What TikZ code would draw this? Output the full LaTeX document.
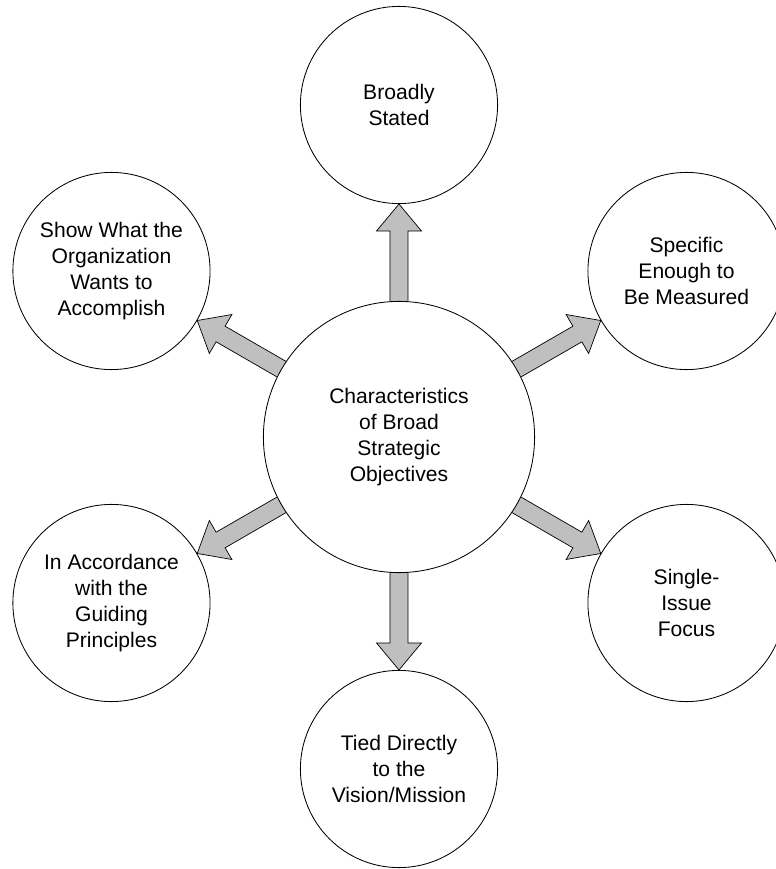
\documentclass[tikz,border=0pt]{standalone}
\usepackage{fontspec}
\setmainfont{Liberation Sans}
\usetikzlibrary{calc,backgrounds}

\tikzset{
  topic/.style={circle,draw,fill=white,line width=0.6pt,minimum size=4.93cm,
    inner sep=0pt,align=center,font=\fontsize{15}{18.5}\selectfont},
  hub/.style={topic,minimum size=6.78cm},
  fatarrow/.style={draw,fill=black!25,line width=0.5pt,line join=miter}
}

% block arrow from the centre of #1 to the point #2
\newcommand{\blockarrow}[2]{%
  \coordinate (h) at ($(#2)!0.675cm!(#1)$);
  \draw[fatarrow] ($(#1)!0.225cm!90:(#2)$) -- ($(h)!0.225cm!-90:(#1)$)
    -- ($(h)!0.5625cm!-90:(#1)$) -- (#2) -- ($(h)!0.5625cm!90:(#1)$)
    -- ($(h)!0.225cm!90:(#1)$) -- ($(#1)!0.225cm!-90:(#2)$) -- cycle;
}

\begin{document}
\begin{tikzpicture}
\useasboundingbox (-9.975,-10.8) rectangle (9.425,10.925);

\node[hub] (hub) at (0,0) {Characteristics\\of Broad\\Strategic\\Objectives};
\node[topic] (stated) at (90:8.3) {Broadly\\Stated};
\node[topic] (measured) at (30:8.3) {Specific\\Enough to\\Be Measured};
\node[topic] (focus) at (-30:8.3) {Single-\\Issue\\Focus};
\node[topic] (mission) at (-90:8.3) {Tied Directly\\to the\\Vision/Mission};
\node[topic] (principles) at (-150:8.3) {In Accordance\\with the\\Guiding\\Principles};
\node[topic] (accomplish) at (150:8.3) {Show What the\\Organization\\Wants to\\Accomplish};

\begin{scope}[on background layer]
\foreach \n/\b in {stated/270,measured/210,focus/150,mission/90,principles/30,accomplish/-30}
  {\blockarrow{hub}{\n.\b}}
\end{scope}
\end{tikzpicture}
\end{document}
